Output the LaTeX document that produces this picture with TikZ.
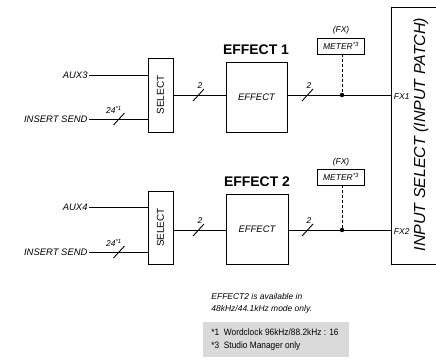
\documentclass[tikz,border=0pt]{standalone}
\usepackage{fontspec}
\setmainfont{Liberation Sans}
\begin{document}
\begin{tikzpicture}[x=1bp,y=-1bp,
  line width=0.9bp,
  lbl/.style={font=\itshape\fontsize{9.5}{11}\selectfont, inner sep=1bp},
  small/.style={font=\itshape\fontsize{8.5}{10}\selectfont, inner sep=0.5bp},
  blk/.style={draw, line width=0.9bp, inner sep=0pt},
  title/.style={font=\bfseries\fontsize{14}{16}\selectfont, inner sep=0pt},
  bus/.pic={\draw (-5.5,6) -- (5.5,-6);},
  meterbox/.style={draw, line width=0.8bp, minimum width=47bp, minimum height=16bp, inner sep=0pt, font=\itshape\fontsize{8.5}{10}\selectfont},
  dashline/.style={dash pattern=on 3bp off 2bp, line width=0.9bp}
]
\useasboundingbox (0,0) rectangle (436,360);

% ---------- big patch box ----------
\node[blk, anchor=north west, minimum width=48bp, minimum height=257bp] (patch) at (391,7) {};
\node[rotate=90, font=\itshape\fontsize{16}{18}\selectfont, inner sep=0pt] (patchtxt) at (421,134.5) {INPUT SELECT (INPUT PATCH)};

% ---------- row 1 ----------
\node[blk, minimum width=25bp, minimum height=74bp] (sel1) at (160.5,95) {};
\node[rotate=90, font=\fontsize{10}{12}\selectfont, inner sep=0pt] (sel1t) at (sel1.center) {SELECT};
\node[lbl, anchor=east] (aux3) at (89,75) {AUX3};
\node[lbl, anchor=east] (ins1) at (89,119) {INSERT SEND};
\draw (aux3.east) -- (sel1.west |- aux3.east);
\draw (ins1.east) -- (sel1.west |- ins1.east);
\pic at (119,119) {bus};
\node[small] (b24a) at (114,110) {24\textsuperscript{*1}};

\node[blk, minimum width=61bp, minimum height=70bp, font=\itshape\fontsize{9.5}{11}\selectfont] (eff1) at (256.5,97) {EFFECT};
\node[title] (t1) at (256,50) {EFFECT 1};
\draw (sel1.east |- 0,95) -- (eff1.west |- 0,95);
\pic at (198.5,95) {bus};
\node[small] (b2a) at (200,86) {2};

\coordinate (dot1) at (342,95);
\draw (eff1.east |- 0,95) -- (patch.west |- 0,95);
\pic at (307.5,95) {bus};
\node[small] (b2b) at (309,86) {2};
\fill (dot1) circle (2.2bp);
\node[meterbox] (m1) at (341,46) {METER\textsuperscript{*3}};
\node[small] (fx1) at (341,30) {(FX)};
\draw[dashline] (m1.south -| dot1) -- (dot1);
\node[small, anchor=west] (fx1l) at (393,96.5) {FX1};

% ---------- row 2 ----------
\node[blk, minimum width=25bp, minimum height=73bp] (sel2) at (160.5,227.5) {};
\node[rotate=90, font=\fontsize{10}{12}\selectfont, inner sep=0pt] (sel2t) at (sel2.center) {SELECT};
\node[lbl, anchor=east] (aux4) at (89,207) {AUX4};
\node[lbl, anchor=east] (ins2) at (89,252) {INSERT SEND};
\draw (aux4.east) -- (sel2.west |- aux4.east);
\draw (ins2.east) -- (sel2.west |- ins2.east);
\pic at (119,252) {bus};
\node[small] (b24b) at (114,243) {24\textsuperscript{*1}};

\node[blk, minimum width=62bp, minimum height=70bp, font=\itshape\fontsize{9.5}{11}\selectfont] (eff2) at (257,229) {EFFECT};
\node[title] (t2) at (257,182) {EFFECT 2};
\draw (sel2.east |- 0,230) -- (eff2.west |- 0,230);
\pic at (198.5,230) {bus};
\node[small] (b2c) at (200,221) {2};

\coordinate (dot2) at (342,230);
\draw (eff2.east |- 0,230) -- (patch.west |- 0,230);
\pic at (307.5,230) {bus};
\node[small] (b2d) at (309,221) {2};
\fill (dot2) circle (2.2bp);
\node[meterbox] (m2) at (341,177) {METER\textsuperscript{*3}};
\node[small] (fx2) at (341,162) {(FX)};
\draw[dashline] (m2.south -| dot2) -- (dot2);
\node[small, anchor=west] (fx2l) at (393,231.5) {FX2};

% ---------- notes ----------
\node[font=\itshape\fontsize{8.5}{11.5}\selectfont, anchor=north west, align=left, inner sep=0pt] (note) at (211,293) {EFFECT2 is available in\\48kHz/44.1kHz mode only.};

\node[fill={rgb,255:red,218;green,218;blue,218}, anchor=north west, minimum width=146bp, minimum height=35bp, inner sep=0pt] (gray) at (203,322) {};
\node[font=\fontsize{9.3}{13.5}\selectfont, anchor=west, align=left, inner sep=0pt, xscale=0.9, transform shape] (foot) at (211,339.5) {*1\ \ Wordclock 96kHz/88.2kHz : 16\\*3\ \ Studio Manager only};
\end{tikzpicture}
\end{document}
